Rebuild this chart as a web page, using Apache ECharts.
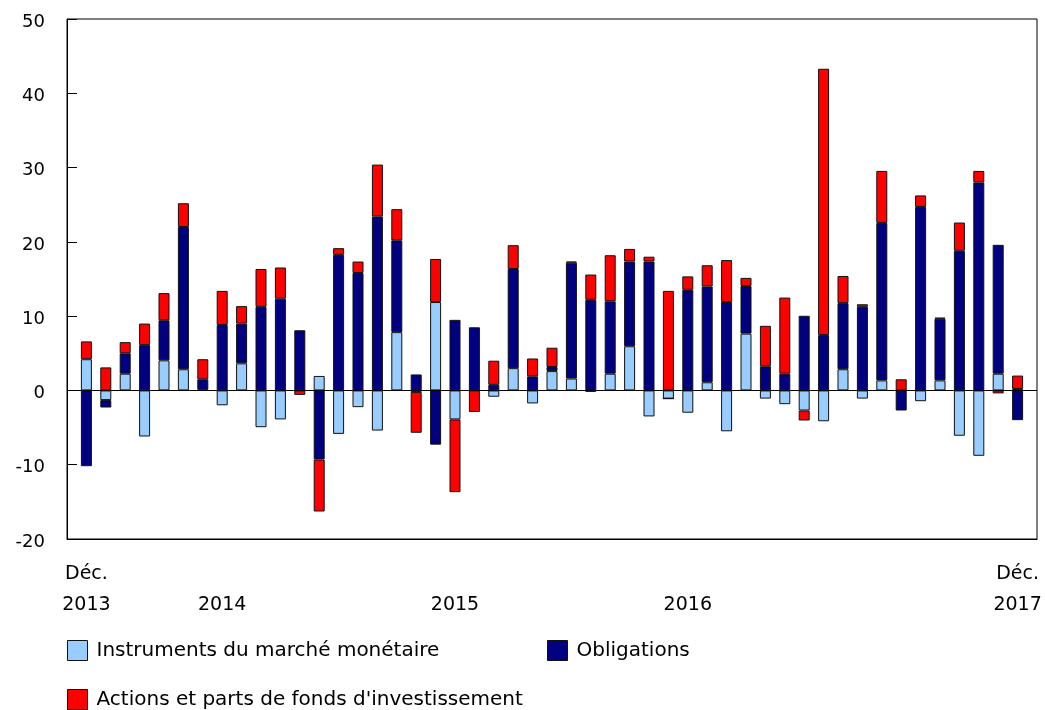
<!DOCTYPE html>
<html>
<head>
<meta charset="utf-8">
<script src="https://cdn.jsdelivr.net/npm/echarts@6/dist/echarts.min.js"></script>
<style>
  html, body { margin: 0; padding: 0; background: #fff; }
  #chart { width: 1045px; height: 710px; }
</style>
</head>
<body>
<div id="chart"></div>
<script>
// mois, déc. 2013 à déc. 2017
const months = [
  '2013-12',
  '2014-01', '2014-02', '2014-03', '2014-04', '2014-05', '2014-06',
  '2014-07', '2014-08', '2014-09', '2014-10', '2014-11', '2014-12',
  '2015-01', '2015-02', '2015-03', '2015-04', '2015-05', '2015-06',
  '2015-07', '2015-08', '2015-09', '2015-10', '2015-11', '2015-12',
  '2016-01', '2016-02', '2016-03', '2016-04', '2016-05', '2016-06',
  '2016-07', '2016-08', '2016-09', '2016-10', '2016-11', '2016-12',
  '2017-01', '2017-02', '2017-03', '2017-04', '2017-05', '2017-06',
  '2017-07', '2017-08', '2017-09', '2017-10', '2017-11', '2017-12'
]

const monetaire = [
  4.2,
  -1.3, 2.25, -6.2, 4.05, 2.85, 0.1, -2.0, 3.65, -4.95, -3.9, 0, 1.95,
  -5.85, -2.25, -5.4, 7.85, -0.2, 11.9, -3.9, 0, -0.85, 3.0, -1.75, 2.6,
  1.6, -0.2, 2.25, 5.95, -3.5, -1.1, -3.0, 1.1, -5.5, 7.65, -1.1, -1.85,
  -2.7, -4.15, 2.85, -1.1, 1.35, 0, -1.45, 1.35, -6.1, -8.8, 2.25, 0.2
]

const obligations = [
  -10.2,
  -1.0, 2.75, 6.1, 5.4, 19.15, 1.4, 8.8, 5.35, 11.25, 12.35, 8.1, -9.3,
  18.25, 15.8, 23.4, 12.35, 2.15, -7.3, 9.5, 8.5, 0.75, 13.35, 1.9, 0.55,
  15.6, 12.2, 9.75, 11.4, 17.35, 0, 13.55, 12.9, 11.9, 6.4, 3.25, 2.25,
  10.05, 7.45, 8.9, 11.25, 21.2, -2.7, 24.7, 8.3, 18.8, 28.0, 17.35, -4.0
]

const actions = [
  2.4,
  3.1, 1.5, 2.9, 3.65, 3.2, 2.7, 4.6, 2.35, 5.1, 4.2, -0.6, -7.0,
  0.9, 1.55, 7.0, 4.2, -5.5, 5.8, -9.8, -2.9, 3.25, 3.2, 2.4, 2.6,
  0.15, 3.4, 6.2, 1.7, 0.65, 13.4, 1.8, 2.85, 5.65, 1.1, 5.45, 10.25,
  -1.35, 35.85, 3.65, 0.35, 7.0, 1.5, 1.55, 0.15, 3.8, 1.55, -0.4, 1.8
]

const tickMonths = ['2013-12', '2014-07', '2015-07', '2016-07', '2017-12']
const tickLabels = ['Déc.\n2013', '\n2014', '\n2015', '\n2016', 'Déc.\n2017']
const yTicks = [-20, -10, 0, 10, 20, 30, 40, 50]

const names = ['Instruments du marché monétaire', 'Obligations', "Actions et parts de fonds d'investissement"]
const colors = ['#99ccff', '#000080', '#ff0000']

const font = 'DejaVu Sans, Verdana, sans-serif'

function makeSeries(name, values, color) {
  return {
    name: name,
    type: 'bar',
    stack: 'total',
    barWidth: 11,
    data: values,
    itemStyle: { color: color, borderColor: '#111', borderWidth: 1 },
    emphasis: { disabled: true },
  }
}

const series = [
  makeSeries(names[0], monetaire, colors[0]),
  makeSeries(names[1], obligations, colors[1]),
  makeSeries(names[2], actions, colors[2]),
]
// ligne du zéro
series[2].markLine = {
  silent: true,
  symbol: 'none',
  label: { show: false },
  lineStyle: { color: '#000', width: 1, type: 'solid' },
  data: [{ yAxis: 0 }],
  animation: false,
}

const legendText = { fontFamily: font, fontSize: 20, color: '#000', padding: [0, 0, 0, 4] }
const legendBase = {
  icon: 'rect',
  padding: 0,
  itemWidth: 20,
  itemHeight: 20,
  itemStyle: { borderColor: '#111', borderWidth: 1 },
  textStyle: legendText,
  selectedMode: false,
}

const chart = echarts.init(document.getElementById('chart'), null, { renderer: 'canvas' })
chart.setOption({
  animation: false,
  backgroundColor: '#fff',
  grid: {
    left: 67, right: 8, top: 19, bottom: 171,
    show: true, borderColor: '#000', borderWidth: 1,
  },
  legend: [
    Object.assign({}, legendBase, { data: [names[0]], left: 67, top: 640 }),
    Object.assign({}, legendBase, { data: [names[1]], left: 547, top: 640 }),
    Object.assign({}, legendBase, { data: [names[2]], left: 67, top: 689 }),
  ],
  xAxis: {
    type: 'category',
    data: months,
    boundaryGap: false,
    min: -1,
    max: months.length,
    splitLine: { show: false },
    axisLine: { onZero: false, lineStyle: { color: '#000' } },
    axisTick: { show: false },
    axisLabel: {
      interval: (i, v) => tickMonths.includes(v),
      formatter: v => tickLabels[tickMonths.indexOf(v)] || '',
      fontFamily: font,
      fontSize: 19,
      color: '#000',
      lineHeight: 31,
      margin: 20,
    },
  },
  yAxis: {
    type: 'value',
    min: yTicks[0],
    max: yTicks[yTicks.length - 1],
    interval: 10,
    splitLine: { show: false },
    axisLine: { show: true, onZero: false, lineStyle: { color: '#000' } },
    axisTick: { show: true, inside: true, length: 10, lineStyle: { color: '#000' } },
    axisLabel: {
      fontFamily: font,
      fontSize: 18,
      color: '#000',
      margin: 22,
      formatter: v => '{t|' + v + '}',
      rich: { t: { fontFamily: font, fontSize: 18, color: '#000', padding: [6, 0, 0, 0] } },
    },
  },
  series: series,
})
</script>
</body>
</html>
